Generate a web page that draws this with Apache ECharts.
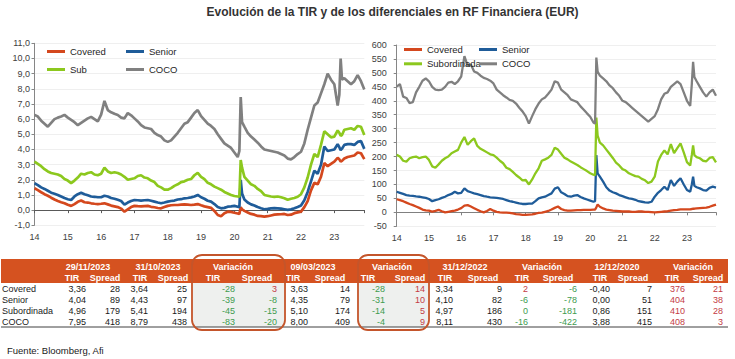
<!DOCTYPE html>
<html><head><meta charset="utf-8">
<script src="https://cdn.jsdelivr.net/npm/echarts@6/dist/echarts.min.js"></script>
<style>html,body{margin:0;padding:0;background:#fff}#c{width:735px;height:359px}</style>
</head><body><div id="c"></div>
<script>
// ---------- DATA ----------
const dates = [
 2014.0,2014.1,2014.2,2014.3,2014.4,2014.5,2014.6,2014.7,2014.8,2014.9,
 2015.0,2015.1,2015.2,2015.3,2015.4,2015.5,2015.6,2015.7,2015.8,2015.9,
 2016.0,2016.1,2016.2,2016.3,2016.4,2016.5,2016.6,2016.7,2016.8,2016.9,
 2017.0,2017.1,2017.2,2017.3,2017.4,2017.5,2017.6,2017.7,2017.8,2017.9,
 2018.0,2018.1,2018.2,2018.3,2018.4,2018.5,2018.6,2018.7,2018.8,2018.9,
 2019.0,2019.1,2019.2,2019.3,2019.4,2019.5,2019.6,2019.7,2019.8,2019.9,
 2020.0,2020.1,2020.15,2020.19,2020.23,2020.3,2020.4,2020.5,2020.6,2020.7,2020.8,2020.9,
 2021.0,2021.1,2021.2,2021.3,2021.4,2021.5,2021.6,2021.7,2021.8,2021.9,
 2022.0,2022.1,2022.2,2022.3,2022.4,2022.5,2022.6,2022.7,2022.8,2022.9,
 2023.0,2023.1,2023.15,2023.19,2023.23,2023.3,2023.4,2023.5,2023.6,2023.7,2023.8,2023.9
];
const yearLabels = ['14','15','16','17','18','19','20','21','22','23'];

// Left chart: TIR (%)
const leftCovered = [
 1.44,1.32,1.18,1.05,0.95,0.82,0.7,0.6,0.52,0.45,
 0.35,0.28,0.4,0.55,0.63,0.52,0.5,0.45,0.42,0.4,
 0.42,0.45,0.38,0.3,0.25,0.2,0.1,-0.1,0.05,0.2,
 0.28,0.26,0.25,0.27,0.28,0.22,0.19,0.14,0.12,0.2,
 0.28,0.32,0.34,0.34,0.36,0.38,0.36,0.34,0.36,0.4,
 0.32,0.25,0.2,0.15,-0.05,-0.32,-0.4,-0.2,-0.1,-0.12,
 -0.17,-0.22,-0.25,0.19,0.06,-0.05,-0.15,-0.25,-0.3,-0.38,-0.4,-0.43,
 -0.4,-0.35,-0.3,-0.28,-0.27,-0.25,-0.32,-0.3,-0.2,-0.15,
 -0.1,0.2,0.6,1.3,1.8,1.7,2.2,3.1,2.9,3.05,
 3.2,3.45,3.35,3.2,3.25,3.4,3.5,3.55,3.6,3.8,3.75,3.36
];
const leftSenior = [
 1.77,1.65,1.5,1.4,1.28,1.15,1.08,1.0,0.9,0.8,
 0.72,0.67,0.9,1.05,1.15,1.05,0.98,0.9,0.88,0.85,
 0.85,0.95,0.9,0.8,0.75,0.68,0.6,0.36,0.5,0.6,
 0.67,0.65,0.63,0.65,0.67,0.62,0.56,0.5,0.45,0.5,
 0.56,0.6,0.63,0.7,0.72,0.78,0.8,0.84,0.9,1.0,
 0.85,0.75,0.62,0.56,0.4,0.2,0.12,0.15,0.23,0.25,
 0.28,0.22,0.19,2.0,1.1,0.7,0.5,0.38,0.3,0.2,0.12,0.06,
 0.08,0.12,0.13,0.12,0.1,0.06,0.02,0.05,0.12,0.2,
 0.3,0.65,1.2,1.9,2.6,2.4,3.0,4.2,3.9,3.95,
 4.0,4.35,4.15,3.95,4.05,4.3,4.35,4.35,4.3,4.5,4.55,4.04
];
const leftSub = [
 3.2,3.05,2.9,2.7,2.55,2.45,2.4,2.35,2.25,2.05,
 1.95,1.78,1.95,2.15,2.4,2.35,2.45,2.5,2.35,2.3,
 2.4,2.8,2.55,2.45,2.5,2.45,2.35,2.2,2.0,2.05,
 2.1,2.25,2.3,2.15,2.1,1.95,1.85,1.6,1.5,1.35,
 1.35,1.45,1.6,1.7,1.85,1.9,2.0,2.05,2.3,2.45,
 2.2,2.05,1.8,1.7,1.55,1.45,1.35,1.2,1.1,1.0,
 0.93,0.9,0.88,3.3,2.8,2.2,1.95,1.7,1.6,1.4,1.25,1.0,
 0.95,0.9,0.88,0.9,0.85,0.78,0.68,0.75,0.8,0.88,
 1.05,1.5,2.15,3.0,3.7,3.5,4.3,5.2,5.0,4.8,
 4.85,5.25,5.1,4.9,4.95,5.3,5.35,5.4,5.3,5.55,5.5,4.96
];
const leftCoco = [
 6.28,6.17,5.9,5.7,5.5,5.75,6.0,6.1,6.17,6.28,
 6.1,5.95,5.8,5.6,5.75,5.9,6.05,6.15,6.0,5.85,
 6.3,7.2,6.6,6.45,6.35,6.27,6.1,6.05,6.4,6.25,
 6.05,5.85,5.6,5.45,5.4,5.35,5.1,4.95,4.85,4.6,
 4.5,4.6,4.85,5.1,5.4,5.7,5.8,6.1,6.4,6.6,
 6.2,5.95,5.7,5.55,5.35,5.0,4.7,4.4,4.25,4.1,
 3.8,3.5,3.9,7.45,5.8,5.5,5.1,4.85,4.65,4.45,4.2,4.0,
 3.95,3.9,3.85,3.8,3.7,3.6,3.4,3.35,3.5,3.7,
 3.85,4.4,5.3,6.1,6.9,7.1,7.7,8.3,9.0,8.6,
 8.3,6.9,7.6,10.0,8.6,8.7,8.5,8.3,8.5,8.9,8.5,7.95
];

// Right chart: spreads (pb)
const rightCovered = [
 47,44,40,35,30,26,21,16,10,7,
 6,3,5,9,4,0,2,4,6,10,
 15,24,26,21,15,9,4,0,5,12,
 6,2,0,-1,-1,-2,-4,-6,-7,-9,
 -9,-8,-7,-5,-2,-1,2,5,10,16,
 21,12,8,6,6,7,8,8,9,9,
 9,10,10,18,28,20,14,10,8,6,5,4,
 3,3,3,2,2,3,3,2,2,1,
 0,1,2,3,4,6,8,9,11,11,
 11,11,12,13,13,14,15,16,17,20,24,28
];
const rightSenior = [
 74,70,66,62,60,59,57,56,54,52,
 48,40,44,47,52,56,62,66,74,68,
 70,86,76,72,68,65,62,58,56,54,
 53,52,50,48,44,40,38,35,32,30,
 30,31,31,40,50,54,56,62,68,85,
 90,72,66,58,56,60,62,55,50,46,
 42,38,40,205,140,128,110,90,78,72,68,62,
 58,54,50,48,45,40,38,36,35,38,
 56,70,80,92,80,116,95,110,122,100,
 80,74,100,128,95,90,86,80,78,88,92,89
];
const rightSub = [
 206,200,185,182,194,198,200,194,198,200,
 188,165,160,172,185,194,200,212,218,224,
 250,270,242,255,265,238,228,222,215,208,
 205,196,185,176,160,155,145,134,125,115,
 116,100,118,140,158,185,190,196,206,232,
 225,210,196,190,182,176,170,162,155,148,
 140,135,133,340,275,250,240,225,210,195,178,168,
 155,150,140,135,130,128,120,115,105,110,
 128,182,206,222,208,245,212,230,247,215,
 180,168,206,240,205,198,194,185,183,195,198,179
];
const rightCoco = [
 451,460,415,410,392,395,430,450,472,480,
 470,450,440,438,440,450,465,468,460,470,
 487,560,525,530,505,500,490,482,478,472,
 462,440,430,420,412,403,400,390,375,362,
 345,318,345,370,390,405,412,425,440,470,
 465,440,430,420,405,400,395,380,368,355,
 343,322,318,555,505,490,480,470,455,445,430,418,
 400,395,385,375,365,355,345,335,325,335,
 345,370,405,425,430,450,460,470,460,430,
 400,382,460,540,485,470,450,430,415,430,440,418
];

// Table
const rowNames = ['Covered','Senior','Subordinada','COCO'];
const headerTop = ['29/11/2023','31/10/2023','Variación','09/03/2023','Variación','31/12/2022','Variación','12/12/2020','Variación'];
const tir_29112023 = [3.36,4.04,4.96,7.95];
const spread_29112023 = [28,89,179,418];
const tir_31102023 = [3.64,4.43,5.41,8.79];
const spread_31102023 = [25,97,194,438];
const varTir_1m = [-28,-39,-45,-83];
const varSpread_1m = [3,-8,-15,-20];
const tir_09032023 = [3.63,4.35,5.10,8.00];
const spread_09032023 = [14,79,174,409];
const varTir_svb = [-28,-31,-14,-4];
const varSpread_svb = [14,10,5,9];
const tir_31122022 = [3.34,4.10,4.97,8.11];
const spread_31122022 = [9,82,186,430];
const varTir_ytd = [2,-6,0,-16];
const varSpread_ytd = [-6,-78,-181,-422];
const tir_12122020 = [-0.40,0.00,0.86,3.88];
const spread_12122020 = [7,51,151,415];
const varTir_2020 = [376,404,410,408];
const varSpread_2020 = [21,38,28,3];

// ---------- CHART ----------
const FONT = '"Liberation Sans", Arial, sans-serif';
const COL = {Covered:'#D4481E', Senior:'#1F5C99', Sub:'#8CC81E', Subordinada:'#8CC81E', COCO:'#808080'};
const chart = echarts.init(document.getElementById('c'), null, {renderer:'svg', width:735, height:359});
const pairs = arr => dates.map((d,i)=>[d, arr[i]]);

function labelX(grid){
  return {type:'value', gridIndex:grid, min:2014, max:2023.9, interval:1, position:'bottom',
    axisLine:{show:false,onZero:false}, axisTick:{show:false}, splitLine:{show:false},
    axisLabel:{show:true, fontSize:9, fontFamily:FONT, color:'#404040', margin:7, showMaxLabel:false,
      formatter:v=>{const k=Math.round(v-2014); return Math.abs(v-2014-k)<1e-6 ? yearLabels[k] : '';}}};
}
function zeroX(grid,yIndex,color){
  return {type:'value', gridIndex:grid, min:2014, max:2023.9, interval:1, position:'bottom',
    axisLine:{show:true,onZero:true,onZeroAxisIndex:yIndex,lineStyle:{color:color,width:1}},
    axisTick:{show:true,length:3,lineStyle:{color:color}}, axisLabel:{show:false}, splitLine:{show:false}};
}
function yAx(grid,min,max,interval,fmt,margin){
  return {type:'value', gridIndex:grid, min, max, interval,
    axisLine:{show:true,lineStyle:{color:'#868686'}}, axisTick:{show:true,length:3,lineStyle:{color:'#868686'}},
    axisLabel:{fontSize:9,fontFamily:FONT,color:'#404040',margin:margin,formatter:fmt},
    splitLine:{show:true,lineStyle:{color:'#EFEFEF',width:1}}};
}
function lg(name,left,top){
  return {data:[name], left, top, icon:'rect', itemWidth:18, itemHeight:3, itemGap:0, padding:0,
    selectedMode:false, textStyle:{fontSize:9.5,fontFamily:FONT,color:'#262626'}};
}
function ser(name,arr,xi,yi,w){
  return {type:'line', name, xAxisIndex:xi, yAxisIndex:yi, data:pairs(arr), showSymbol:false, symbol:'none',
    lineStyle:{color:COL[name],width:w}, itemStyle:{color:COL[name]}, z:2};
}

// table graphics
const g = [];
const txt = (s,x,y,opt={}) => g.push({type:'text', x, y, silent:true, z:10,
  style:{text:s, textAlign:opt.align||'left', textVerticalAlign:'middle',
    font:(opt.bold?'bold ':'')+(opt.size||9)+'px '+FONT, fill:opt.fill||'#1a1a1a'}});
// title
txt('Evolución de la TIR y de los diferenciales en RF Financiera (EUR)', 392.5, 12, {align:'center', bold:true, size:12, fill:'#333333'});
// header band
g.push({type:'rect', shape:{x:1,y:259,width:727,height:24}, style:{fill:'#D55220'}, z:1, silent:true});
// shaded variation areas
g.push({type:'rect', shape:{x:193,y:283,width:91,height:44}, style:{fill:'#EEF0EE'}, z:1, silent:true});
g.push({type:'rect', shape:{x:359,y:283,width:69,height:44}, style:{fill:'#EEF0EE'}, z:1, silent:true});
// bottom rule
g.push({type:'line', shape:{x1:1,y1:327,x2:728,y2:327}, style:{stroke:'#404040',lineWidth:1}, z:2, silent:true});

const top1 = [88,158,233,313,392,465,542,617,693];
const tirHead = [72,140,213,293,368,445,522,600,672];
const sprHead = [105,173,257,330,410,483,558,633,708];
const tirRight = [86,148,235,308,385,453,528,610,685];
const sprRight = [120,187,277,350,425,502,577,652,723];
const blocks = [
  [tir_29112023,spread_29112023,false],[tir_31102023,spread_31102023,false],[varTir_1m,varSpread_1m,true],
  [tir_09032023,spread_09032023,false],[varTir_svb,varSpread_svb,true],[tir_31122022,spread_31122022,false],
  [varTir_ytd,varSpread_ytd,true],[tir_12122020,spread_12122020,false],[varTir_2020,varSpread_2020,true]
];
const rowY = [288.5,299.5,310.5,321.5];
headerTop.forEach((h,i)=>{
  txt(h, top1[i], 266.5, {align:'center', bold:true, fill:'#ffffff'});
  txt('TIR', tirHead[i], 277.5, {align:'center', bold:true, fill:'#ffffff'});
  txt('Spread', sprHead[i], 277.5, {align:'center', bold:true, fill:'#ffffff'});
});
rowNames.forEach((n,r)=>txt(n, 2, rowY[r], {}));
const vcol = v => v>0 ? '#C43B45' : '#3E9B4F';
blocks.forEach((b,i)=>{
  const [t,s,isVar] = b;
  rowNames.forEach((n,r)=>{
    if(isVar){
      txt(String(t[r]), tirRight[i], rowY[r], {align:'right', fill:vcol(t[r])});
      txt(String(s[r]), sprRight[i], rowY[r], {align:'right', fill:vcol(s[r])});
    } else {
      txt(t[r].toFixed(2).replace('.',','), tirRight[i], rowY[r], {align:'right'});
      txt(String(s[r]), sprRight[i], rowY[r], {align:'right'});
    }
  });
});
// rounded highlight boxes
g.push({type:'rect', shape:{x:192,y:255,width:93,height:75,r:10}, style:{fill:'none',stroke:'#C4552B',lineWidth:1.8}, z:12, silent:true});
g.push({type:'rect', shape:{x:358,y:255,width:71,height:75,r:10}, style:{fill:'none',stroke:'#C4552B',lineWidth:1.8}, z:12, silent:true});
// source
txt('Fuente: Bloomberg, Afi', 7, 350, {size:9.5, fill:'#1a1a1a'});

const option = {
  animation:false,
  backgroundColor:'#ffffff',
  grid:[
    {left:34.5, top:43.3, right:370.7, bottom:133.7, containLabel:false},
    {left:396.7, top:45, right:19, bottom:132.7, containLabel:false}
  ],
  xAxis:[labelX(0), zeroX(0,0,'#595959'), labelX(1), zeroX(1,1,'#808080')],
  yAxis:[
    yAx(0,-1,11,1,v=>v.toFixed(1).replace('.',','),4.5),
    yAx(1,-50,600,50,v=>String(v),10)
  ],
  legend:[
    lg('Covered',47,46.5), lg('Senior',126,46.5), lg('Sub',47,64.5), lg('COCO',126,64.5),
    lg('Covered',404,44.5), lg('Senior',479,44.5), lg('Subordinada',404,58.8), lg('COCO',479,58.8)
  ],
  series:[
    ser('Covered',leftCovered,0,0,2.7), ser('Senior',leftSenior,0,0,2.7), ser('Sub',leftSub,0,0,2.7), ser('COCO',leftCoco,0,0,2.7),
    ser('Covered',rightCovered,2,1,2.3), ser('Senior',rightSenior,2,1,2.3), ser('Subordinada',rightSub,2,1,2.3), ser('COCO',rightCoco,2,1,2.3)
  ],
  graphic:{elements:g}
};
chart.setOption(option);
</script>
</body></html>
